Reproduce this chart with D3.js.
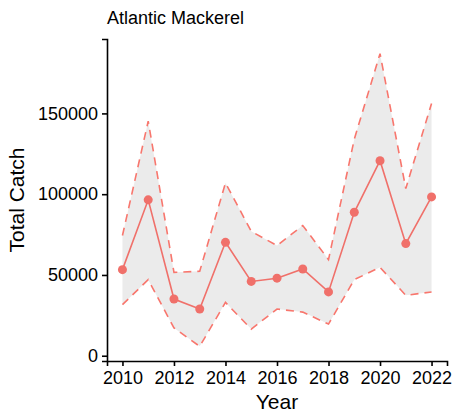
<!DOCTYPE html>
<html>
<head>
<meta charset="utf-8">
<script src="https://cdn.jsdelivr.net/npm/d3@7"></script>
<style>
  body { margin: 0; background: #fff; }
  svg text { font-family: "Liberation Sans", Arial, sans-serif; fill: #000; }
</style>
</head>
<body>
<svg id="chart" width="454" height="414"></svg>
<script>
// data
const years = [2010, 2011, 2012, 2013, 2014, 2015, 2016, 2017, 2018, 2019, 2020, 2021, 2022];
const catchMean = [53300, 96500, 35100, 28900, 70200, 46000, 48000, 53700, 39500, 88800, 120700, 69400, 98300];
const catchUpper = [74400, 145200, 51600, 52300, 107000, 77000, 68200, 80600, 59500, 134000, 187000, 103500, 156200];
const catchLower = [31600, 47100, 17200, 5800, 33000, 16500, 28900, 27000, 19600, 47100, 54700, 37400, 39500];
const xTicks = [2010, 2012, 2014, 2016, 2018, 2020, 2022];
const yTicks = [0, 50000, 100000, 150000];

const red = '#F0706A';
const svg = d3.select('#chart');
const panel = { left: 107, right: 447, top: 39, bottom: 361 };

const rows = years.map((y, i) => ({
    year: y, mean: catchMean[i], upper: catchUpper[i], lower: catchLower[i]
}));

// ggplot-style 5% expansion
const yMin = d3.min(catchLower), yMax = d3.max(catchUpper);
const yPad = (yMax - yMin) * 0.05;
const xPad = (d3.max(years) - d3.min(years)) * 0.05;

const x = d3.scaleLinear()
    .domain([d3.min(years) - xPad, d3.max(years) + xPad])
    .range([panel.left, panel.right]);
const y = d3.scaleLinear()
    .domain([yMin - yPad, yMax + yPad])
    .range([panel.bottom, panel.top]);

// ribbon
svg.append('path')
    .datum(rows)
    .attr('fill', '#EBEBEB')
    .attr('d', d3.area().x(d => x(d.year)).y0(d => y(d.lower)).y1(d => y(d.upper)));

// dashed bounds
['upper', 'lower'].forEach(key => {
    svg.append('path')
        .datum(rows)
        .attr('fill', 'none')
        .attr('stroke', '#F8766D')
        .attr('stroke-width', 1.6)
        .attr('stroke-dasharray', '8,6')
        .attr('d', d3.line().x(d => x(d.year)).y(d => y(d[key])));
});

// mean line + points
svg.append('path')
    .datum(rows)
    .attr('fill', 'none')
    .attr('stroke', red)
    .attr('stroke-width', 1.6)
    .attr('d', d3.line().x(d => x(d.year)).y(d => y(d.mean)));

svg.selectAll('circle.pt')
    .data(rows)
    .join('circle')
    .attr('class', 'pt')
    .attr('cx', d => x(d.year))
    .attr('cy', d => y(d.mean))
    .attr('r', 4.5)
    .attr('fill', red);

// axes
const xAxis = svg.append('g')
    .attr('transform', `translate(0,${panel.bottom})`)
    .call(d3.axisBottom(x).tickValues(xTicks).tickFormat(d3.format('d')).tickSize(5).tickPadding(5));
const yAxis = svg.append('g')
    .attr('transform', `translate(${panel.left},0)`)
    .call(d3.axisLeft(y).tickValues(yTicks).tickFormat(d3.format('d')).tickSize(5).tickPadding(4));

[xAxis, yAxis].forEach(g => {
    g.select('.domain').attr('stroke', '#000').attr('stroke-width', 1.6);
    g.selectAll('.tick line').attr('stroke', '#000').attr('stroke-width', 1.6);
    g.selectAll('.tick text').attr('font-size', 18).attr('fill', '#1a1a1a')
        .attr('font-family', '"Liberation Sans", Arial, sans-serif');
});
xAxis.selectAll('.tick text').attr('dy', '0.71em');

// titles
svg.append('text')
    .attr('x', panel.left)
    .attr('y', 24)
    .attr('font-size', 18)
    .text('Atlantic Mackerel');

svg.append('text')
    .attr('x', (panel.left + panel.right) / 2)
    .attr('y', 409)
    .attr('text-anchor', 'middle')
    .attr('font-size', 21)
    .text('Year');

svg.append('text')
    .attr('transform', `translate(24,${(panel.top + panel.bottom) / 2}) rotate(-90)`)
    .attr('text-anchor', 'middle')
    .attr('font-size', 21)
    .text('Total Catch');
</script>
</body>
</html>
